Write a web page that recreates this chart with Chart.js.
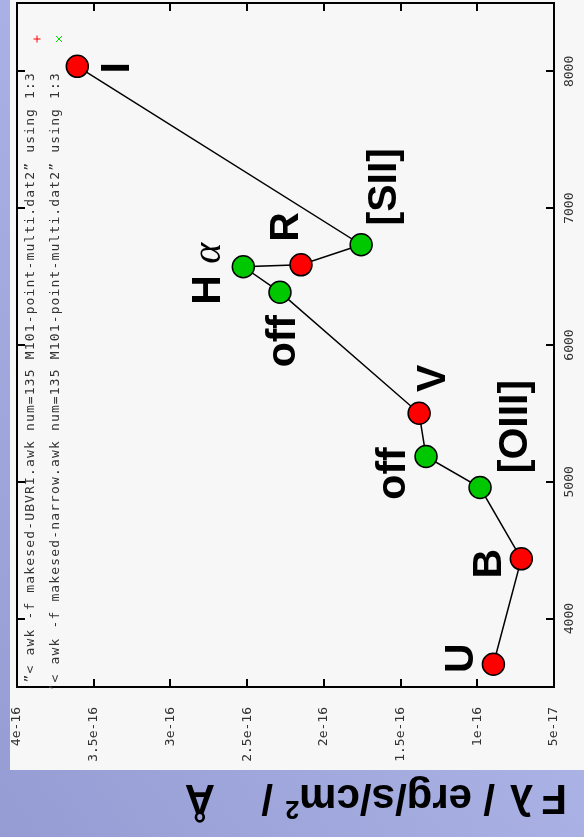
<!DOCTYPE html>
<html><head><meta charset="utf-8">
<script src="https://cdn.jsdelivr.net/npm/chart.js@4/dist/chart.umd.min.js"></script>
<style>
html,body{margin:0;padding:0;}
body{width:584px;height:837px;position:relative;overflow:hidden;background:linear-gradient(to top right,#959cd3 0%,#a9b0e3 50%,#bcc4f1 100%);}
#panel{position:absolute;left:10px;top:0;width:574px;height:770px;background:#f7f7f7;}
#wrap{position:absolute;left:0;top:0;width:584px;height:837px;}
</style></head><body>
<div id="panel"></div>
<div id="wrap"><canvas id="c" width="584" height="837"></canvas></div>
<script>
// ---- data ----
const broadNames = ['U','B','V','R','I'];
const broadWavelength = [3666,4437,5501,6586,8037];
const broadFlux = [0.895e-16,0.713e-16,1.379e-16,2.149e-16,3.607e-16];

const narrowNames = ['[OIII]','off','off','H\u03b1','[SII]'];
const narrowWavelength = [4958,5185,6386,6572,6733];
const narrowFlux = [0.982e-16,1.334e-16,2.286e-16,2.525e-16,1.757e-16];

const fluxTicks = [4e-16,3.5e-16,3e-16,2.5e-16,2e-16,1.5e-16,1e-16,5e-17];
const fluxTickLabels = ['4e-16','3.5e-16','3e-16','2.5e-16','2e-16','1.5e-16','1e-16','5e-17'];
const wlTicks = [4000,5000,6000,7000,8000];
const wlTickLabels = ['4000','5000','6000','7000','8000'];

const legendLabels = [
  '\u201d< awk -f makesed-UBVRI.awk num=135 M101-point-multi.dat2\u201d using 1:3',
  '\u2019< awk -f makesed-narrow.awk num=135 M101-point-multi.dat2\u201d using 1:3'
];
const axisTitle = {pre:'F', lam:'\u03bb', mid:'/', units:'erg/s/cm', sup:'2', slash:'/', ang:'\u00c5'};

// ---- label placement (pixels, relative to point) ----
const broadOffsets = [[-35,-6],[-35,5],[11,-35],[-18,-38],[37,1.5]];
const narrowOffsets = [[32,-61],[-36,17],[0,49],[-38,7],[20,-58]];

const broadData = broadWavelength.map((w,i)=>({x:broadFlux[i], y:w}));
const narrowData = narrowWavelength.map((w,i)=>({x:narrowFlux[i], y:w}));
const lineData = broadData.concat(narrowData).slice().sort((a,b)=>a.y-b.y);

const LABEL_FONT = 'bold 41px "Liberation Sans", Arial, sans-serif';
const MONO = '"DejaVu Sans Mono", monospace';

function drawRotatedRuns(ctx, cx, cy, runs){
  ctx.save();
  ctx.translate(cx, cy);
  ctx.rotate(-Math.PI/2);
  let total = 0;
  runs.forEach(r=>{ctx.font=r.f; r.w=ctx.measureText(r.t).width; total+=r.w;});
  let x = -total/2;
  ctx.textAlign='left'; ctx.textBaseline='alphabetic'; ctx.fillStyle='#000';
  runs.forEach(r=>{ctx.font=r.f; ctx.fillText(r.t, x, 14.7); x+=r.w;});
  ctx.restore();
}

const decor = {
  id:'decor',
  afterDatasetsDraw(chart){
    const ctx = chart.ctx, a = chart.chartArea;
    const xs = chart.scales.x, ys = chart.scales.y;
    ctx.save();
    ctx.strokeStyle='#000'; ctx.lineWidth=2;
    ctx.beginPath();
    fluxTicks.forEach(v=>{
      const px = Math.round(xs.getPixelForValue(v));
      ctx.moveTo(px, a.bottom); ctx.lineTo(px, a.bottom-8);
      ctx.moveTo(px, a.top); ctx.lineTo(px, a.top+8);
    });
    wlTicks.forEach(v=>{
      const py = Math.round(ys.getPixelForValue(v));
      ctx.moveTo(a.left, py); ctx.lineTo(a.left+8, py);
      ctx.moveTo(a.right, py); ctx.lineTo(a.right-8, py);
    });
    ctx.stroke();
    ctx.strokeRect(a.left, a.top, a.right-a.left, a.bottom-a.top);
    ctx.restore();
  },
  afterDraw(chart){
    const ctx = chart.ctx, a = chart.chartArea;
    const ys = chart.scales.y;
    ctx.save();
    ctx.fillStyle='#333'; ctx.font='13px '+MONO;
    wlTicks.forEach((v,i)=>{
      const py = ys.getPixelForValue(v);
      ctx.save(); ctx.translate(a.right+16, py); ctx.rotate(-Math.PI/2);
      ctx.textAlign='center'; ctx.textBaseline='middle';
      ctx.fillText(wlTickLabels[i],0,0); ctx.restore();
    });
    ctx.restore();

    const m1 = chart.getDatasetMeta(1).data, m2 = chart.getDatasetMeta(2).data;
    broadNames.forEach((n,i)=>{
      const p=m1[i]; drawRotatedRuns(ctx, p.x+broadOffsets[i][0], p.y+broadOffsets[i][1], [{t:n,f:LABEL_FONT}]);
    });
    narrowNames.forEach((n,i)=>{
      const p=m2[i];
      let runs = [{t:n,f:LABEL_FONT}];
      if (n.length===2 && n[1]==='\u03b1') runs=[{t:'H ',f:LABEL_FONT},{t:'\u03b1',f:'italic 40px "Liberation Serif", serif'}];
      drawRotatedRuns(ctx, p.x+narrowOffsets[i][0], p.y+narrowOffsets[i][1], runs);
    });

    const keyX = [31, 56], keyCol=['#ff0000','#00dd00'];
    legendLabels.forEach((t,i)=>{
      ctx.save(); ctx.translate(keyX[i], 72); ctx.rotate(-Math.PI/2);
      ctx.font='13px '+MONO; ctx.letterSpacing='1.15px';
      ctx.fillStyle='#333'; ctx.textAlign='right'; ctx.textBaseline='middle';
      ctx.fillText(t, 0, 0); ctx.restore();
    });
    ctx.save(); ctx.lineWidth=1;
    ctx.strokeStyle=keyCol[0]; ctx.beginPath();
    ctx.moveTo(37-3.5,39); ctx.lineTo(37+3.5,39); ctx.moveTo(37,39-3.5); ctx.lineTo(37,39+3.5); ctx.stroke();
    ctx.strokeStyle=keyCol[1]; ctx.beginPath();
    ctx.moveTo(59-3,39-3); ctx.lineTo(59+3,39+3); ctx.moveTo(59-3,39+3); ctx.lineTo(59+3,39-3); ctx.stroke();
    ctx.restore();

    ctx.save();
    ctx.translate(567, 785); ctx.rotate(Math.PI);
    ctx.fillStyle='#000'; ctx.textAlign='left'; ctx.textBaseline='alphabetic';
    const TF='bold 42px "Liberation Sans", Arial, sans-serif';
    ctx.font=TF; ctx.fillText(axisTitle.pre, 0, 0);
    ctx.fillText(axisTitle.lam, 34, 0);
    ctx.fillText(axisTitle.mid, 72, 0);
    ctx.fillText(axisTitle.units, 95, 0);
    const uw = ctx.measureText(axisTitle.units).width;
    ctx.font='bold 25px "Liberation Sans", Arial, sans-serif';
    ctx.fillText(axisTitle.sup, 95+uw, -16);
    ctx.font=TF;
    ctx.fillText(axisTitle.slash, 294, 0);
    ctx.fillText(axisTitle.ang, 352, 0);
    ctx.restore();
  }
};

new Chart(document.getElementById('c'), {
  type:'scatter',
  data:{datasets:[
    {label:'sed', data:lineData, showLine:true, borderColor:'#000', borderWidth:1.5, pointRadius:0, fill:false, order:2},
    {label:legendLabels[0], data:broadData, backgroundColor:'#ff0000', borderColor:'#000', borderWidth:1.5, pointRadius:11, order:1},
    {label:legendLabels[1], data:narrowData, backgroundColor:'#00c800', borderColor:'#000', borderWidth:1.5, pointRadius:11, order:1}
  ]},
  options:{
    responsive:false, animation:false, events:[],
    layout:{autoPadding:false, padding:{left:17, top:3, right:0, bottom:0}},
    plugins:{legend:{display:false}, tooltip:{enabled:false}},
    scales:{
      x:{type:'linear', position:'bottom', reverse:true, min:0.5e-16, max:4e-16,
         grid:{display:false}, border:{display:false},
         afterBuildTicks:s=>{s.ticks=fluxTicks.map(v=>({value:v}));},
         afterFit:s=>{s.height=150; s.paddingLeft=0; s.paddingRight=0;},
         ticks:{minRotation:90, maxRotation:90, autoSkip:false, padding:12, color:'#333',
                font:{family:'DejaVu Sans Mono', size:13},
                callback:(v,i)=>fluxTickLabels[i]}},
      y:{type:'linear', position:'right', min:3500, max:8500,
         grid:{display:false}, border:{display:false}, ticks:{display:false},
         afterBuildTicks:s=>{s.ticks=wlTicks.map(v=>({value:v}));},
         afterFit:s=>{s.width=30; s.paddingTop=0; s.paddingBottom=0;}}
    }
  },
  plugins:[decor]
});
</script>
</body></html>
